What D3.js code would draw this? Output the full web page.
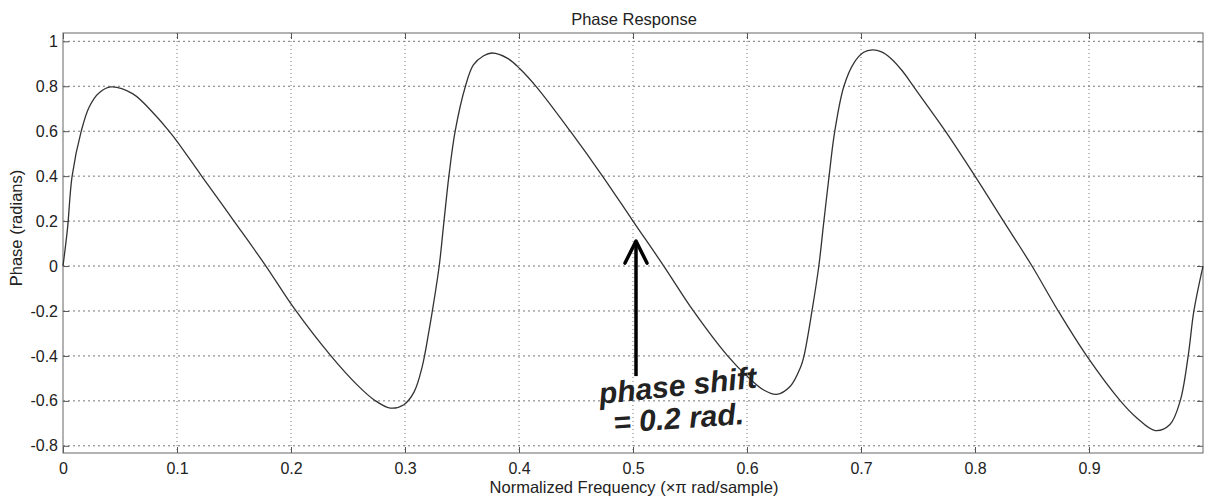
<!DOCTYPE html>
<html>
<head>
<meta charset="utf-8">
<script src="https://cdn.jsdelivr.net/npm/d3@7"></script>
<style>
  body { margin: 0; background: #fff; }
  text { font-family: "Liberation Sans", Arial, sans-serif; fill: #222; }
</style>
</head>
<body>
<svg id="chart"></svg>
<script>
// normalized frequency (x pi rad/sample) and phase (radians)
const freq = [0, 0.004, 0.008, 0.016, 0.023, 0.032, 0.042, 0.061, 0.081, 0.093, 0.1, 0.121, 0.15, 0.178,
  0.203, 0.235, 0.258, 0.273, 0.287, 0.299, 0.308, 0.315, 0.321, 0.324, 0.33, 0.334, 0.3385, 0.344,
  0.353, 0.36, 0.369, 0.3765, 0.39, 0.401, 0.416, 0.445, 0.474, 0.5, 0.527, 0.553, 0.583, 0.6, 0.615,
  0.626, 0.638, 0.647, 0.65, 0.657, 0.663, 0.667, 0.672, 0.677, 0.685, 0.694, 0.702, 0.71, 0.718, 0.726,
  0.736, 0.746, 0.76, 0.774, 0.8, 0.825, 0.85, 0.873, 0.898, 0.9275, 0.942, 0.958, 0.971, 0.98, 0.987, 0.992, 1.0];
const phase = [0, 0.17, 0.4, 0.6, 0.708, 0.772, 0.797, 0.767, 0.671, 0.6, 0.555, 0.405, 0.2, 0,
  -0.19, -0.4, -0.529, -0.596, -0.632, -0.617, -0.56, -0.45, -0.29, -0.2, 0, 0.19, 0.4, 0.6,
  0.8, 0.895, 0.936, 0.948, 0.924, 0.877, 0.793, 0.6, 0.395, 0.2, 0, -0.2, -0.4, -0.49, -0.553,
  -0.571, -0.535, -0.45, -0.4, -0.2, 0, 0.18, 0.4, 0.6, 0.8, 0.905, 0.95, 0.962, 0.953, 0.925,
  0.87, 0.8, 0.70, 0.6, 0.4, 0.2, 0, -0.2, -0.4, -0.6, -0.676, -0.732, -0.705, -0.6, -0.4, -0.2, 0.0];

const xTicks = [0, 0.1, 0.2, 0.3, 0.4, 0.5, 0.6, 0.7, 0.8, 0.9];
const yTicks = [-0.8, -0.6, -0.4, -0.2, 0, 0.2, 0.4, 0.6, 0.8, 1];

const titleText = "Phase Response";
const xLabel = "Normalized Frequency (\u00d7\u03c0 rad/sample)";
const yLabel = "Phase (radians)";
const noteLines = ["phase shift", "= 0.2 rad."];
const notePoint = [0.5, 0.2];

const W = 1206, H = 499;
const margin = { top: 33, right: 3, bottom: 46, left: 63 };
const width = W - margin.left - margin.right;
const height = H - margin.top - margin.bottom;

const svg = d3.select("#chart").attr("width", W).attr("height", H);
const g = svg.append("g").attr("transform", `translate(${margin.left},${margin.top})`);

const x = d3.scaleLinear().domain([0, 1]).range([0, width]);
const y = d3.scaleLinear().domain([-0.832, 1.037]).range([height, 0]);

const fmt = d => (d === 0 || d === 1) ? String(d) : d3.format(".1f")(d).replace("\u2212", "-");

// grid
g.append("g").selectAll("line").data(xTicks.filter(d => d > 0)).join("line")
  .attr("x1", d => x(d)).attr("x2", d => x(d)).attr("y1", 0).attr("y2", height)
  .attr("stroke", "#777").attr("stroke-dasharray", "1,3");
g.append("g").selectAll("line").data(yTicks).join("line")
  .attr("x1", 0).attr("x2", width).attr("y1", d => y(d)).attr("y2", d => y(d))
  .attr("stroke", "#777").attr("stroke-dasharray", "2,3");

// axes with inward ticks
const xAxis = d3.axisBottom(x).tickValues(xTicks).tickSize(-6).tickSizeOuter(0).tickPadding(10).tickFormat(fmt);
const yAxis = d3.axisLeft(y).tickValues(yTicks).tickSize(-6).tickSizeOuter(0).tickPadding(5).tickFormat(fmt);

const xg = g.append("g").attr("transform", `translate(0,${height})`).call(xAxis);
const yg = g.append("g").call(yAxis);
g.append("g").call(d3.axisTop(x).tickValues(xTicks).tickSize(-6).tickSizeOuter(0).tickFormat(""));
g.append("g").attr("transform", `translate(${width},0)`)
  .call(d3.axisRight(y).tickValues(yTicks).tickSize(-6).tickSizeOuter(0).tickFormat(""));

g.selectAll(".domain").remove();
g.selectAll(".tick line").attr("stroke", "#555");
xg.selectAll("text").attr("font-size", 16).attr("fill", "#333");
yg.selectAll("text").attr("font-size", 16).attr("fill", "#333");

// frame
g.append("rect").attr("width", width).attr("height", height)
  .attr("fill", "none").attr("stroke", "#666").attr("stroke-width", 1);

// curve
const line = d3.line().x((d, i) => x(freq[i])).y(d => y(d)).curve(d3.curveCatmullRom.alpha(0.5));
g.append("path").datum(phase).attr("d", line)
  .attr("fill", "none").attr("stroke", "#333").attr("stroke-width", 1.3);

// titles
svg.append("text").attr("x", margin.left + width / 2 + 1).attr("y", 25)
  .attr("text-anchor", "middle").attr("font-size", 16.5).text(titleText);
svg.append("text").attr("x", margin.left + width / 2 + 1).attr("y", 493)
  .attr("text-anchor", "middle").attr("font-size", 16.5).text(xLabel);
svg.append("text").attr("transform", "translate(22,228) rotate(-90)")
  .attr("text-anchor", "middle").attr("font-size", 16.5).text(yLabel);

// handwritten annotation
const ax = x(notePoint[0]) + 3;
const tipY = y(notePoint[1]) + 20;
const note = g.append("g");
note.append("line").attr("x1", ax).attr("x2", ax).attr("y1", tipY + 2).attr("y2", tipY + 135)
  .attr("stroke", "#000").attr("stroke-width", 3.5);
note.append("path")
  .attr("d", `M${ax - 11},${tipY + 22} L${ax},${tipY} L${ax + 11},${tipY + 22}`)
  .attr("fill", "none").attr("stroke", "#000").attr("stroke-width", 3.5)
  .attr("stroke-linejoin", "round").attr("stroke-linecap", "round");
note.append("text").attr("transform", `translate(${ax - 36},${tipY + 163}) rotate(-6)`)
  .attr("font-family", "DejaVu Sans").attr("font-style", "italic").attr("font-weight", "bold")
  .attr("font-size", 30).attr("fill", "#000").text(noteLines[0]);
note.append("text").attr("transform", `translate(${ax - 22},${tipY + 192}) rotate(-4)`)
  .attr("font-family", "DejaVu Sans").attr("font-style", "italic").attr("font-weight", "bold")
  .attr("font-size", 30).attr("fill", "#000").text(noteLines[1]);
</script>
</body>
</html>
